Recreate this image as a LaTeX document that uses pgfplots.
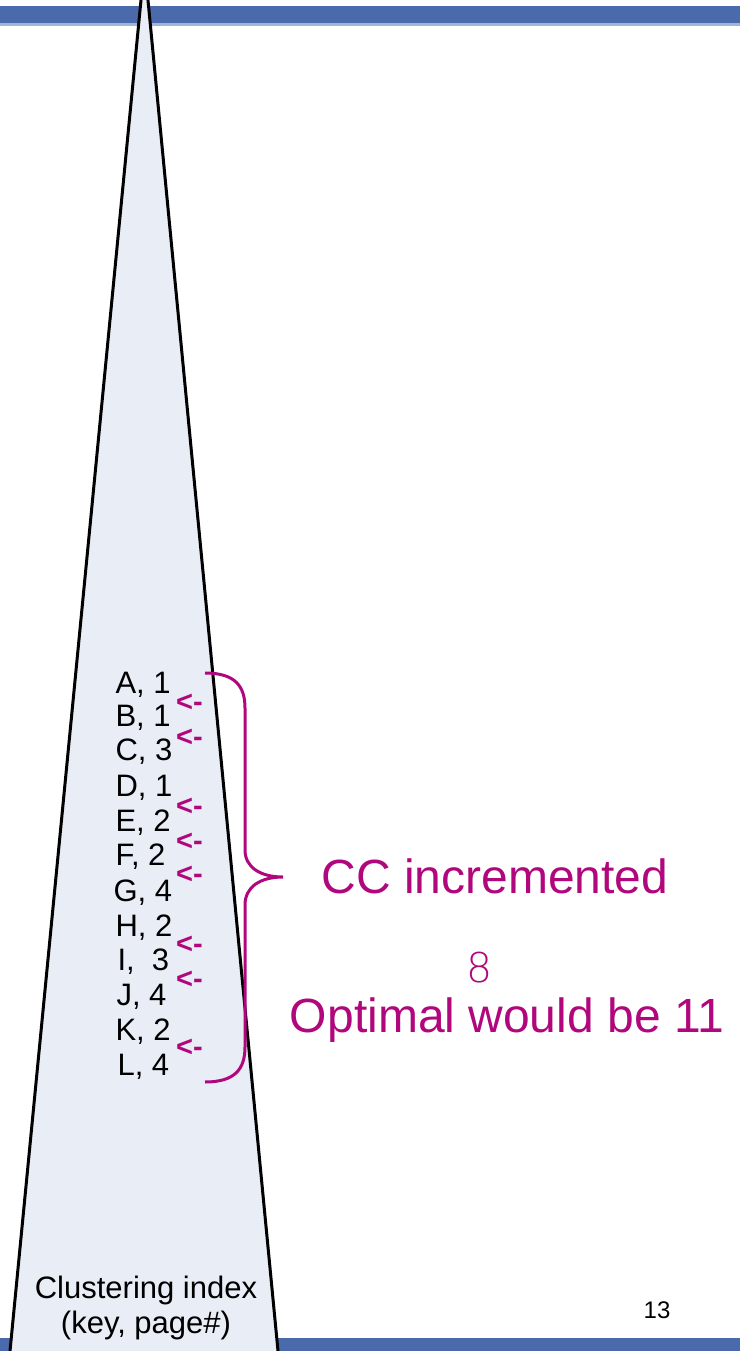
\documentclass[border=0pt]{standalone}
\usepackage{pgfplots}
\pgfplotsset{compat=1.18}
\usepackage{fontspec}
\setmainfont{Liberation Sans}
\newfontfamily\thinfont{DejaVu Sans ExtraLight}
\definecolor{barblue}{RGB}{74,106,172}
\definecolor{barlight}{RGB}{160,180,215}
\definecolor{trifill}{RGB}{232,237,246}
\definecolor{trigrid}{RGB}{214,222,238}
\definecolor{mag}{RGB}{176,8,124}
\begin{document}
\begin{tikzpicture}
\begin{axis}[width=740pt,height=1351pt,scale only axis,
  xmin=0,xmax=740,ymin=0,ymax=1351,y dir=reverse,
  axis lines=none, clip=true]
% header and footer bars
\addplot[fill=barlight, draw=none] coordinates {(0,6)(740,6)(740,26)(0,26)};
\addplot[fill=barblue, draw=none] coordinates {(0,6)(740,6)(740,23)(0,23)};
\addplot[fill=barblue, draw=none] coordinates {(0,1338)(740,1338)(740,1351)(0,1351)};
% triangle (index)
\addplot[fill=trifill, draw=none] coordinates {(7.2,1380)(144.5,-36)(280.8,1380)};
\addplot[draw=black, line width=3pt] coordinates {(7.2,1380)(144.5,-36)(280.8,1380)};
% entries
\node[anchor=west, font=\fontsize{31}{34}\selectfont] at (axis cs:112,685) {A, 1};
\node[anchor=west, font=\fontsize{31}{34}\selectfont] at (axis cs:112,718) {B, 1};
\node[anchor=west, font=\fontsize{31}{34}\selectfont] at (axis cs:112,752) {C, 3};
\node[anchor=west, font=\fontsize{31}{34}\selectfont] at (axis cs:112,788) {D, 1};
\node[anchor=west, font=\fontsize{31}{34}\selectfont] at (axis cs:112,823) {E, 2};
\node[anchor=west, font=\fontsize{31}{34}\selectfont] at (axis cs:112,857) {F, 2};
\node[anchor=west, font=\fontsize{31}{34}\selectfont] at (axis cs:110,893) {G, 4};
\node[anchor=west, font=\fontsize{31}{34}\selectfont] at (axis cs:112,928) {H, 2};
\node[anchor=west, font=\fontsize{31}{34}\selectfont] at (axis cs:114,962) {I,\ \ 3};
\node[anchor=west, font=\fontsize{31}{34}\selectfont] at (axis cs:113,997) {J, 4};
\node[anchor=west, font=\fontsize{31}{34}\selectfont] at (axis cs:112,1032) {K, 2};
\node[anchor=west, font=\fontsize{31}{34}\selectfont] at (axis cs:114,1067) {L, 4};
% arrows
\pgfplotsinvokeforeach{703,738,807,842,875,945,980,1048}{
  \node[anchor=west, inner sep=0pt, text=mag, font=\bfseries\fontsize{29}{32}\selectfont] at (axis cs:176,#1) {<-};
}
% brace
\draw[mag, line width=3pt]
  (axis cs:205,673) .. controls (axis cs:235,673) and (axis cs:245,686) .. (axis cs:245,708)
  -- (axis cs:245,850)
  .. controls (axis cs:245,867) and (axis cs:260,877) .. (axis cs:283,877)
  .. controls (axis cs:260,877) and (axis cs:245,887) .. (axis cs:245,905)
  -- (axis cs:245,1047)
  .. controls (axis cs:245,1069) and (axis cs:235,1082) .. (axis cs:205,1082);
% annotations
\node[text=mag, font=\fontsize{48}{54}\selectfont] at (axis cs:495,876) {CC incremented};
\node[text=mag, font=\thinfont\fontsize{41}{46}\selectfont] at (axis cs:480,968) {8};
\node[text=mag, font=\fontsize{48}{54}\selectfont] at (axis cs:507,1020) {Optimal would be 11};
\node[font=\fontsize{31}{35}\selectfont, align=center] at (axis cs:146,1308) {Clustering index\\(key, page\#)};
\node[font=\fontsize{24}{28}\selectfont] at (axis cs:657,1310) {13};
\end{axis}
\end{tikzpicture}
\end{document}
